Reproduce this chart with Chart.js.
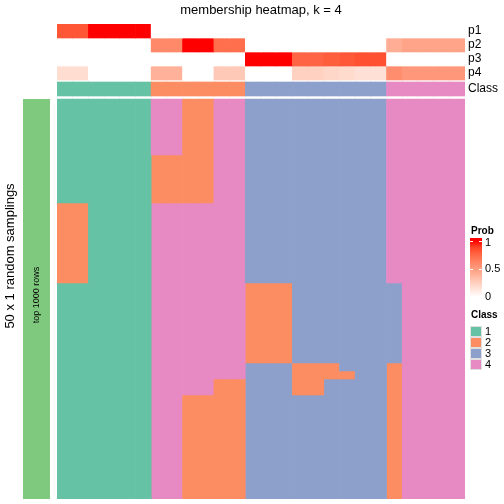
<!DOCTYPE html>
<html>
<head>
<meta charset="utf-8">
<script src="https://cdn.jsdelivr.net/npm/chart.js@4"></script>
<style>
body{margin:0;background:#fff;}
#wrap{width:504px;height:504px;}
</style>
</head>
<body>
<div id="wrap"><canvas id="heat" width="504" height="504"></canvas></div>
<script>
// columns = samples, ordered by class
const sampleIds=['s1','s2','s3','s4','s5','s6','s7','s8','s9','s10','s11','s12','s13','s14','s15','s16','s17','s18','s19','s20','s21','s22','s23','s24','s25','s26'];
const classCall=[1,1,1,1,1,1,2,2,2,2,2,2,3,3,3,3,3,3,3,3,3,4,4,4,4,4];
const probP1=[0.82,0.82,1,1,1,1,0,0,0,0,0,0,0,0,0,0,0,0,0,0,0,0,0,0,0,0];
const probP2=[0,0,0,0,0,0,0.6,0.6,1,1,0.72,0.72,0,0,0,0,0,0,0,0,0,0.42,0.47,0.47,0.47,0.47];
const probP3=[0,0,0,0,0,0,0,0,0,0,0,0,1,1,1,0.76,0.76,0.79,0.81,0.84,0.84,0,0,0,0,0];
const probP4=[0.18,0.18,0,0,0,0,0.4,0.4,0,0,0.28,0.28,0,0,0,0.24,0.24,0.21,0.19,0.16,0.16,0.58,0.53,0.53,0.53,0.53];
const annoLabels=['p1','p2','p3','p4','Class'];
// class of each sample in the 50 random samplings, as runs [class, count] from top
const samplingRuns=[
 [[1,13],[2,10],[1,27]],[[1,13],[2,10],[1,27]],
 [[1,50]],[[1,50]],[[1,50]],[[1,50]],
 [[4,7],[2,6],[4,37]],[[4,7],[2,6],[4,37]],
 [[2,13],[4,24],[2,13]],[[2,13],[4,24],[2,13]],
 [[4,35],[2,15]],[[4,35],[2,15]],
 [[3,23],[2,10],[3,17]],[[3,23],[2,10],[3,17]],[[3,23],[2,10],[3,17]],
 [[3,33],[2,4],[3,13]],[[3,33],[2,4],[3,13]],
 [[3,33],[2,2],[3,15]],
 [[3,34],[2,1],[3,15]],
 [[3,50]],[[3,50]],
 [[4,23],[3,10],[2,17]],
 [[4,50]],[[4,50]],[[4,50]],[[4,50]]
];
const nSamplings=50;
const probTicks=[1,0.5,0];
const classNames=['1','2','3','4'];

const classColors={1:'#66C2A5',2:'#FC8D62',3:'#8DA0CB',4:'#E78AC3'};

// white -> red in Lab space
function lin(c){c/=255;return c<=0.04045?c/12.92:Math.pow((c+0.055)/1.055,2.4);}
function unlin(c){c=c<=0.0031308?12.92*c:1.055*Math.pow(c,1/2.4)-0.055;return Math.round(Math.max(0,Math.min(1,c))*255);}
function toLab(r,g,b){
  const R=lin(r),G=lin(g),B=lin(b);
  const X=(0.4124*R+0.3576*G+0.1805*B)/0.95047,Y=0.2126*R+0.7152*G+0.0722*B,Z=(0.0193*R+0.1192*G+0.9505*B)/1.08883;
  const f=t=>t>0.008856?Math.cbrt(t):7.787*t+16/116;
  return [116*f(Y)-16,500*(f(X)-f(Y)),200*(f(Y)-f(Z))];
}
function fromLab(L,a,b){
  const fy=(L+16)/116,fx=fy+a/500,fz=fy-b/200;
  const g=t=>t*t*t>0.008856?t*t*t:(t-16/116)/7.787;
  const X=g(fx)*0.95047,Y=g(fy),Z=g(fz)*1.08883;
  const R=3.2406*X-1.5372*Y-0.4986*Z,G=-0.9689*X+1.8758*Y+0.0415*Z,B=0.0557*X-0.2040*Y+1.0570*Z;
  return 'rgb('+unlin(R)+','+unlin(G)+','+unlin(B)+')';
}
const labW=toLab(255,255,255),labR=toLab(255,0,0);
function probColor(p){
  return fromLab(labW[0]+(labR[0]-labW[0])*p,labW[1]+(labR[1]-labW[1])*p,labW[2]+(labR[2]-labW[2])*p);
}

// y axis in pixel-like units, top of p1 = 0
const annoH=14, classTop=58, bodyTop=75, rowH=8;

const datasets=[];
[probP1,probP2,probP3,probP4].forEach((pr,i)=>{
  datasets.push({data:pr.map(()=>[i*annoH,(i+1)*annoH]),backgroundColor:pr.map(probColor)});
});
datasets.push({data:classCall.map(()=>[classTop,classTop+annoH]),backgroundColor:classCall.map(c=>classColors[c])});
const maxRuns=Math.max(...samplingRuns.map(r=>r.length));
for(let k=0;k<maxRuns;k++){
  const data=[],cols=[];
  samplingRuns.forEach(runs=>{
    let start=0;
    for(let j=0;j<k&&j<runs.length;j++) start+=runs[j][1];
    if(k<runs.length){
      data.push([bodyTop+start*rowH,bodyTop+(start+runs[k][1])*rowH]);
      cols.push(classColors[runs[k][0]]);
    }else{data.push(null);cols.push('#fff');}
  });
  datasets.push({data:data,backgroundColor:cols});
}

const decor={
  id:'decor',
  afterDraw(chart){
    const c=chart.ctx,a=chart.chartArea,y=chart.scales.y;
    c.save();
    c.fillStyle='#000';
    c.textBaseline='middle';
    // title
    c.font='13px "Liberation Sans", Arial, sans-serif';
    c.textAlign='center';
    c.fillText('membership heatmap, k = 4',(a.left+a.right)/2,10);
    // annotation names
    c.font='12px "Liberation Sans", Arial, sans-serif';
    c.textAlign='left';
    annoLabels.forEach((t,i)=>{
      const top=i<4?i*annoH:classTop;
      c.fillText(t,a.right+3,y.getPixelForValue(top+annoH/2));
    });
    // row slice strip
    const yb0=y.getPixelForValue(bodyTop),yb1=y.getPixelForValue(bodyTop+nSamplings*rowH);
    c.fillStyle='#7FC97F';
    c.fillRect(a.left-34,yb0,27,yb1-yb0);
    c.fillStyle='#000';
    c.save();
    c.translate(a.left-20,(yb0+yb1)/2-4);
    c.rotate(-Math.PI/2);
    c.textAlign='center';
    c.font='9px "Liberation Sans", Arial, sans-serif';
    c.fillText('top 1000 rows',0,0);
    c.restore();
    c.save();
    c.translate(10,256);
    c.rotate(-Math.PI/2);
    c.textAlign='center';
    c.font='13px "Liberation Sans", Arial, sans-serif';
    c.fillText('50 x 1 random samplings',0,0);
    c.restore();
    // Prob legend
    const lx=a.right+5;
    c.textAlign='left';
    c.font='bold 10px "Liberation Sans", Arial, sans-serif';
    c.fillText('Prob',lx+1,231);
    const g0=238,g1=298,v1=241,v0=297;
    const grad=c.createLinearGradient(0,v1,0,v0);
    for(let s=0;s<=10;s++) grad.addColorStop(s/10,probColor(1-s/10));
    c.fillStyle=grad;
    c.fillRect(lx,g0,12,g1-g0);
    c.font='11px "Liberation Sans", Arial, sans-serif';
    probTicks.forEach(v=>{
      const py=v0+(v1-v0)*v;
      if(v>0){
        c.strokeStyle='#fff';c.lineWidth=1;
        c.beginPath();c.moveTo(lx,py+0.5);c.lineTo(lx+3,py+0.5);c.moveTo(lx+9,py+0.5);c.lineTo(lx+12,py+0.5);c.stroke();
      }
      c.fillStyle='#000';
      c.fillText(String(v),lx+15,Math.min(Math.max(py,243),297));
    });
    // Class legend
    c.font='bold 10px "Liberation Sans", Arial, sans-serif';
    c.fillText('Class',lx+1,315);
    c.font='11px "Liberation Sans", Arial, sans-serif';
    classNames.forEach((n,i)=>{
      const sy=326+i*11;
      c.fillStyle=classColors[i+1];
      c.fillRect(lx,sy,12,11);
      c.strokeStyle='#e0e0e0';c.lineWidth=1;
      c.strokeRect(lx+0.5,sy+0.5,11,10);
      c.fillStyle='#000';
      c.fillText(n,lx+15,sy+5.5);
    });
    c.restore();
  }
};

new Chart(document.getElementById('heat').getContext('2d'),{
  type:'bar',
  data:{labels:sampleIds,datasets:datasets},
  options:{
    responsive:false,
    animation:false,
    layout:{padding:{left:57,right:39,top:24,bottom:5}},
    datasets:{bar:{grouped:false,barPercentage:1,categoryPercentage:1,borderWidth:0,borderSkipped:false}},
    scales:{
      x:{display:false,offset:true,grid:{display:false}},
      y:{display:false,min:0,max:bodyTop+nSamplings*rowH,reverse:true}
    },
    plugins:{legend:{display:false},tooltip:{enabled:false}}
  },
  plugins:[decor]
});
</script>
</body>
</html>
